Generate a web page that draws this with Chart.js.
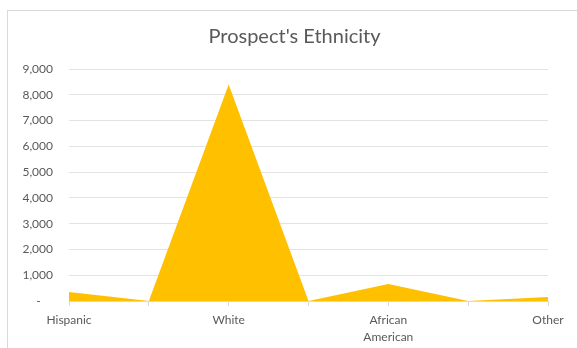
<!DOCTYPE html>
<html>
<head>
<meta charset="utf-8">
<script src="https://cdn.jsdelivr.net/npm/chart.js@4"></script>
<style>
  body { margin: 0; background: #fff; }
  #wrap { width: 577px; height: 348px; position: relative; }
</style>
</head>
<body>
<div id="wrap"><canvas id="ethnicityChart"></canvas></div>
<script>
// Data (empty categories sit between the named ones)
const categories = ['Hispanic', '', 'White', '', ['African', 'American'], '', 'Other'];
const prospects = [350, 0, 8400, 0, 660, 0, 160];
const yTicks = [0, 1000, 2000, 3000, 4000, 5000, 6000, 7000, 8000, 9000];

const grey = '#595959';

// light frame round the chart, like the Excel chart box
const framePlugin = {
  id: 'frame',
  beforeDraw(chart) {
    const ctx = chart.ctx;
    ctx.save();
    ctx.fillStyle = '#fff';
    ctx.fillRect(0, 0, chart.width, chart.height);
    ctx.strokeStyle = '#d9d9d9';
    ctx.lineWidth = 1;
    ctx.strokeRect(7.5, 10.5, 640, 400);
    ctx.restore();
  }
};

const ctx = document.getElementById('ethnicityChart').getContext('2d');
const myChart = new Chart(ctx, {
  type: 'line',
  data: {
    labels: categories,
    datasets: [{
      label: "Prospect's Ethnicity",
      data: prospects,
      fill: 'origin',
      backgroundColor: '#FFC000',
      borderColor: '#FFC000',
      borderWidth: 0,
      pointRadius: 0,
      tension: 0
    }]
  },
  options: {
    responsive: true,
    maintainAspectRatio: false,
    animation: false,
    layout: { padding: { left: 12, right: 0, top: 0, bottom: 0 } },
    plugins: {
      legend: { display: false },
      tooltip: { enabled: false },
      title: {
        display: true,
        text: "Prospect's Ethnicity",
        color: grey,
        font: { family: 'Lato', size: 20, weight: 'normal' },
        padding: { top: 25, bottom: 20 }
      }
    },
    scales: {
      x: {
        offset: false,
        grid: { drawOnChartArea: false, drawTicks: true, tickLength: 5, color: '#d9d9d9' },
        border: { color: '#d9d9d9' },
        ticks: {
          color: grey,
          font: { family: 'Lato', size: 12, lineHeight: 1.45 },
          maxRotation: 0,
          autoSkip: false,
          padding: 5
        },
        afterFit(scale) { scale.height = 47; }
      },
      y: {
        min: 0,
        max: yTicks[yTicks.length - 1],
        afterBuildTicks(scale) { scale.ticks = yTicks.map(v => ({ value: v })); },
        grid: { color: '#e3e3e3', drawTicks: false },
        border: { display: false },
        ticks: {
          color: grey,
          font: { family: 'Lato', size: 12 },
          padding: 16,
          callback: (v) => v === 0 ? '-    ' : v.toLocaleString('en-US')
        },
        afterFit(scale) { scale.width = 57; }
      },
      // empty right axis, only to keep the plot off the right edge
      yRight: {
        position: 'right',
        display: true,
        grid: { display: false },
        border: { display: false },
        ticks: { display: false },
        afterFit(scale) { scale.width = 29; }
      }
    }
  },
  plugins: [framePlugin]
});
</script>
</body>
</html>
